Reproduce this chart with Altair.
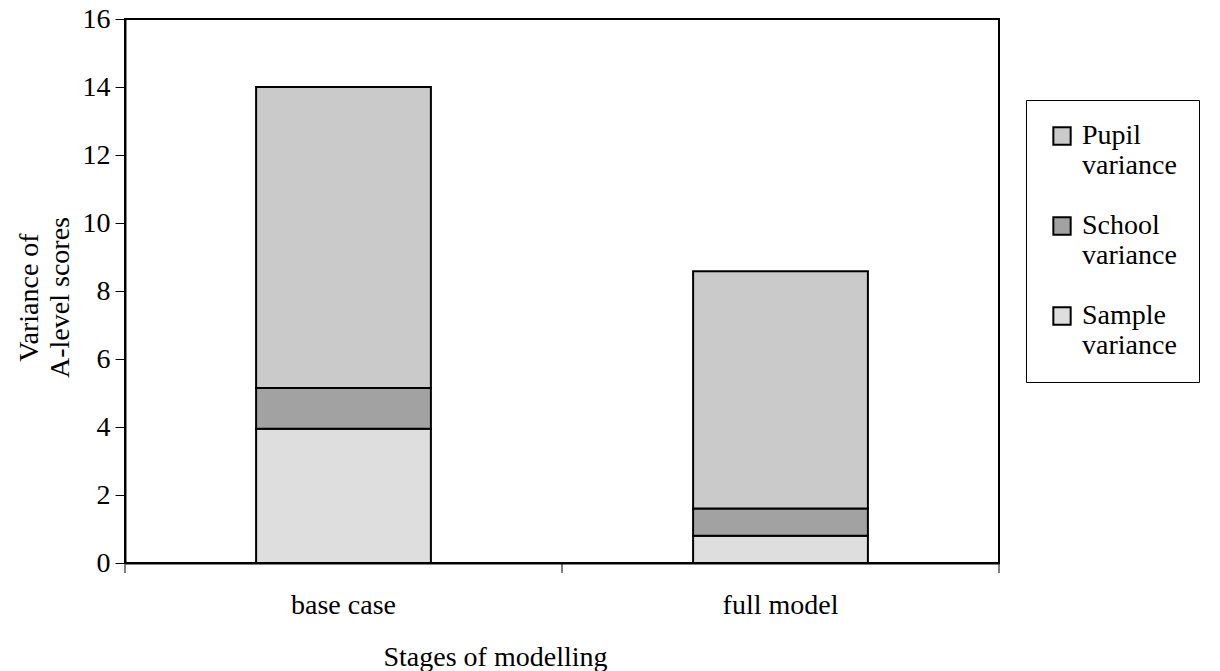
import altair as alt
import pandas as pd

# Variance components (A-level scores) at each modelling stage
stages = ["base case", "full model"]
components = ["Pupil variance", "School variance", "Sample variance"]
sample_var = [3.95, 0.80]
school_var = [1.20, 0.80]
pupil_var = [8.85, 6.98]

# stacking position: sample at the bottom, pupil on top
stack_rank = {"Sample variance": 0, "School variance": 1, "Pupil variance": 2}
fills = ["#cacaca", "#a2a2a2", "#dedede"]

rows = []
for i, st in enumerate(stages):
    for comp, vals in (("Sample variance", sample_var),
                       ("School variance", school_var),
                       ("Pupil variance", pupil_var)):
        rows.append({"stage": st, "component": comp, "value": vals[i],
                     "rank": stack_rank[comp]})
df = pd.DataFrame(rows)

FONT = "Liberation Serif"
FS = 28
W, H = 874, 544

bars = alt.Chart(df).mark_bar(stroke="black", strokeWidth=2).encode(
    x=alt.X(
        "stage:N",
        sort=stages,
        scale=alt.Scale(paddingInner=0.6, paddingOuter=0.3),
        axis=alt.Axis(
            title="Stages of modelling",
            titleFont=FONT, titleFontSize=FS, titleFontWeight="normal",
            titleColor="black", titleX=370, titleY=102,
            titleAlign="center", titleBaseline="alphabetic",
            labelFont=FONT, labelFontSize=FS, labelColor="black",
            labelAngle=0, labelPadding=28, ticks=False, tickSize=0,
            domainColor="black", domainWidth=2,
        ),
    ),
    y=alt.Y(
        "value:Q",
        stack="zero",
        scale=alt.Scale(domain=[0, 16], nice=False),
        axis=alt.Axis(
            title=["Variance of", "A-level scores"],
            titleFont=FONT, titleFontSize=FS, titleFontWeight="normal",
            titleColor="black", titleLineHeight=31,
            titleX=-88, titleY=278, titleAngle=-90,
            titleAlign="center", titleBaseline="alphabetic",
            values=list(range(0, 17, 2)),
            labelFont=FONT, labelFontSize=FS, labelColor="black",
            labelPadding=5, tickSize=10, tickColor="black", tickWidth=1,
            domainColor="black", domainWidth=2, grid=False,
        ),
    ),
    color=alt.Color(
        "component:N",
        scale=alt.Scale(domain=components, range=fills),
        legend=alt.Legend(
            orient="none", legendX=901, legendY=81,
            title=None, symbolType="square", symbolSize=300,
            symbolStrokeColor="black", symbolStrokeWidth=2,
            symbolOpacity=1,
            labelFont=FONT, labelFontSize=FS, labelColor="black",
            labelExpr="split(datum.label, ' ')", labelLimit=0,
            labelOffset=6, rowPadding=32,
            strokeColor="black", padding=22,
        ),
    ),
    order=alt.Order("rank:Q", sort="ascending"),
)

# category boundary ticks below the x axis
edges = pd.DataFrame({"edge": [0, 1, 2]})
edge_ticks = alt.Chart(edges).mark_rule(color="black", strokeWidth=1).encode(
    x=alt.X("edge:Q", scale=alt.Scale(domain=[0, 2]), axis=None),
    y=alt.value(H),
    y2=alt.value(H + 10),
)

chart = alt.layer(bars, edge_ticks).resolve_scale(x="independent").properties(
    width=W,
    height=H,
    autosize=alt.AutoSizeParams(type="none"),
    padding={"left": 125, "top": 19, "right": 221, "bottom": 108},
    background="white",
).configure_view(stroke="black", strokeWidth=2)

chart.save("out.html", embed_options={"renderer": "svg", "actions": False})
